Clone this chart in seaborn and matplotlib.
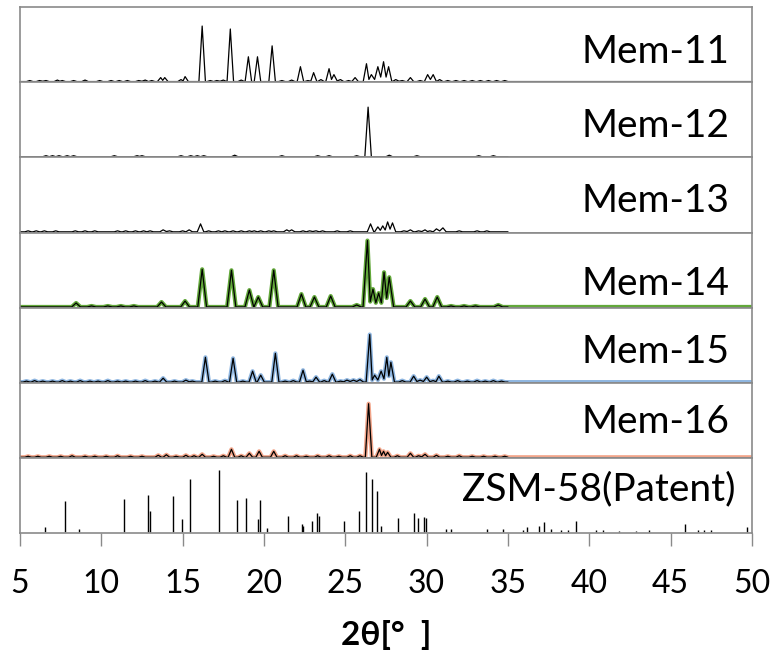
import matplotlib
matplotlib.use('Agg')
import matplotlib.pyplot as plt
import seaborn as sns

# XRD patterns: peak positions (2theta) and heights (panel units, panel = 75)
mem11_pos = [5.6, 6.2, 6.6, 7.3, 7.6, 8.3, 9.0, 9.9, 10.6, 11.1, 11.6, 12.3, 12.7, 13.1,
             13.65, 13.9, 14.9, 15.15, 16.2, 16.7, 17.1, 17.5, 17.93, 18.6, 19.04, 19.6,
             20.5, 21.1, 21.7, 22.24, 22.7, 23.05, 23.5, 24.0, 24.3, 24.7, 25.2, 25.6,
             26.3, 26.6, 27.0, 27.35, 27.66, 28.1, 28.5, 29.0, 29.6, 30.06, 30.4, 30.8,
             31.3, 31.8, 32.3, 32.8, 33.3, 33.8, 34.3, 34.8]
mem11_hgt = [1, 1, 1, 1.5, 1, 1, 1.5, 1, 1, 1, 1, 1, 1.5, 1,
             4, 4, 2, 5, 56, 1, 1, 1.5, 53, 1.5, 25, 25,
             36, 1, 1.5, 15, 1, 9, 2, 13, 7, 2, 1, 4,
             18, 7, 15, 20, 15, 2, 1, 4, 1, 7, 7, 2,
             1, 1, 1, 1, 1, 1, 1, 1]

mem12_pos = [6.6, 7.0, 7.4, 7.9, 8.3, 10.8, 12.2, 12.5, 14.9, 15.5, 15.9, 16.3, 18.2,
             21.1, 23.3, 24.0, 25.7, 26.4, 27.7, 29.4, 33.2, 34.1]
mem12_hgt = [1, 1, 1, 1, 1, 1, 1, 1, 1, 1, 1, 1, 1.5,
             1, 1, 1, 1, 50, 1.5, 1, 1, 1]

mem13_pos = [5.5, 6.0, 6.5, 7.2, 8.4, 9.0, 9.6, 11.0, 11.5, 12.1, 12.6, 13.0, 13.8, 14.2,
             15.0, 15.4, 16.1, 16.6, 17.2, 17.6, 18.1, 18.6, 19.1, 19.4, 19.8, 20.3,
             20.6, 21.4, 21.7, 22.4, 22.8, 23.2, 23.6, 24.5, 25.3, 26.55, 27.0, 27.3,
             27.6, 27.9, 28.6, 29.0, 29.5, 29.9, 30.2, 30.6, 31.0, 32.0, 33.1, 33.7]
mem13_hgt = [1, 1, 1, 1, 1, 1, 1, 1, 1, 1, 1, 1, 2, 1,
             1, 2, 8, 1, 1, 1, 1, 1, 1, 1, 1, 1,
             1, 2, 2, 1, 1, 1, 1, 1, 1, 8, 5, 6,
             10, 9, 1, 2, 1, 2, 1, 3, 4, 1, 1, 1]

mem14_pos = [8.45, 9.4, 10.4, 11.2, 12.0, 13.7, 15.15, 16.2, 18.0, 19.1, 19.65, 20.6,
             22.3, 23.1, 24.1, 25.7, 26.36, 26.7, 27.05, 27.38, 27.7, 29.0, 29.9, 30.65,
             31.5, 32.3, 33.0, 34.4]
mem14_hgt = [4, 1, 1, 1, 1, 5, 6, 38, 37, 17, 10, 37,
             13, 10, 11, 2, 67, 18, 14, 35, 30, 6, 8, 10,
             1, 1, 1, 2]

mem15_pos = [5.4, 5.9, 6.4, 7.0, 7.6, 8.1, 8.7, 9.3, 9.8, 10.4, 11.0, 11.5, 12.1, 12.7,
             13.3, 13.8, 14.5, 15.2, 15.6, 16.4, 17.0, 17.6, 18.1, 18.7, 19.3, 19.8,
             20.7, 21.3, 21.8, 22.4, 22.8, 23.2, 23.7, 24.2, 24.7, 25.1, 25.5, 25.9,
             26.5, 26.8, 27.2, 27.55, 27.8, 28.5, 29.2, 29.6, 30.0, 30.4, 30.75, 31.3,
             31.9, 32.5, 33.1, 33.6, 34.1, 34.6]
mem15_hgt = [1, 1.5, 1, 1, 1.5, 1, 1.5, 1, 1, 1.5, 1, 1, 1, 1.5,
             1, 4, 1, 2, 1, 25, 1, 1.5, 24, 1, 11, 7,
             29, 1, 1.5, 12, 1, 5, 1.5, 8, 1, 2, 2, 2.5,
             48, 7, 11, 25, 20, 1.5, 6, 2, 5, 1.5, 6, 1,
             1.5, 1, 1.5, 1, 1.5, 1]

mem16_pos = [5.5, 6.1, 6.8, 7.5, 8.2, 9.0, 9.6, 10.3, 11.0, 11.8, 12.5, 13.5, 14.0, 14.6,
             15.2, 15.7, 16.2, 16.9, 17.5, 18.0, 18.6, 19.1, 19.7, 20.6, 21.3, 22.0,
             22.6, 23.3, 24.0, 24.6, 25.3, 25.9, 26.43, 27.1, 27.35, 27.6, 28.2, 29.0,
             29.5, 29.9, 30.6, 31.3, 32.0, 32.8, 33.5, 34.2, 34.8]
mem16_hgt = [1, 1, 1, 1, 1.5, 1, 1, 1, 1.5, 1, 1, 2, 2.5, 1,
             2, 1.5, 3, 1, 1.5, 8, 1.5, 4, 6, 6, 1.5, 1.5,
             1, 1.5, 1.5, 1, 1.5, 1.5, 54, 8, 6, 5, 1.5, 4,
             1.5, 3, 2, 1, 1.5, 1, 1, 1, 1]

zsm_pos = [6.52, 7.77, 8.6, 11.39, 12.86, 12.98, 14.38, 14.99, 15.47, 17.21, 18.34,
           18.88, 19.65, 19.77, 20.16, 21.5, 22.32, 22.4, 22.96, 23.27, 23.39, 24.94,
           25.86, 26.25, 26.62, 26.95, 27.17, 28.26, 29.24, 29.45, 29.81, 29.94, 31.21,
           31.49, 33.71, 34.69, 35.93, 36.17, 36.9, 37.2, 37.67, 38.27, 38.67, 39.19,
           40.4, 40.86, 41.84, 42.84, 43.69, 45.91, 46.65, 47.04, 47.47, 49.69]
zsm_hgt = [5, 32, 3, 34, 38, 22, 37, 13, 54, 63, 33,
           35, 13, 33, 4, 17, 8, 6, 11, 20, 17, 11,
           22, 61, 54, 42, 6, 15, 20, 15, 16, 15, 3,
           3, 3, 3, 2, 5, 6, 10, 3, 2, 2, 11,
           2, 2, 1, 1, 2, 8, 2, 2, 2, 5]

names = ["Mem-11", "Mem-12", "Mem-13", "Mem-14", "Mem-15", "Mem-16", "ZSM-58(Patent)"]
x_ticks = [5, 10, 15, 20, 25, 30, 35, 40, 45, 50]


def profile(pos, hgt, w, end=None):
    """Turn a peak list into a polyline of narrow triangles on a zero baseline."""
    xs, ys = [5.0], [0.0]
    for i, (p, h) in enumerate(zip(pos, hgt)):
        if i == 0 or p - pos[i - 1] >= 2 * w:
            xs.append(p - w)
            ys.append(0.0)
        xs.append(p)
        ys.append(h)
        if i + 1 < len(pos) and pos[i + 1] - p < 2 * w:
            xs.append((p + pos[i + 1]) / 2)
            ys.append(0.3 * min(h, hgt[i + 1]))
        else:
            xs.append(p + w)
            ys.append(0.0)
    if end is not None:
        xs.append(end)
        ys.append(0.0)
    return xs, ys


sns.set_theme(style="white")
plt.rcParams['font.family'] = ['Lato', 'DejaVu Sans']

fig, axes = plt.subplots(7, 1, sharex=True, figsize=(7.74, 6.55), dpi=100)
fig.subplots_adjust(left=0.0258, right=0.9716, top=0.989, bottom=0.186, hspace=0)

frame_col = "#8a8a8a"

# (pos, hgt, half width, extend to 50, glow colour)
series = [
    (mem11_pos, mem11_hgt, 0.2, True, None),
    (mem12_pos, mem12_hgt, 0.2, False, None),
    (mem13_pos, mem13_hgt, 0.2, False, None),
    (mem14_pos, mem14_hgt, 0.27, True, "#62a83a"),
    (mem15_pos, mem15_hgt, 0.22, True, "#8fb6e0"),
    (mem16_pos, mem16_hgt, 0.2, True, "#f2a58a"),
]
label_y = [0.26, 0.27, 0.27, 0.17, 0.26, 0.33, 0.44]
label_x = [0.969, 0.969, 0.969, 0.969, 0.969, 0.969, 0.977]

for ax, (pos, hgt, w, extend, glow) in zip(axes[:6], series):
    xs, ys = profile(pos, hgt, w, end=35.0)
    if glow is not None:
        gx, gy = profile(pos, hgt, w, end=50.0)
        sns.lineplot(x=gx, y=gy, ax=ax, sort=False, estimator=None,
                     color=glow, lw=3.0, solid_joinstyle='round')
    elif extend:
        xs, ys = profile(pos, hgt, w, end=50.0)
    sns.lineplot(x=xs, y=ys, ax=ax, sort=False, estimator=None,
                 color="black", lw=0.9)

ax = axes[6]
ax.vlines(zsm_pos, 0, zsm_hgt, color="black", lw=1.0)

for i, ax in enumerate(axes):
    ax.set_xlim(5, 50)
    ax.set_ylim(-0.8, 75)
    ax.set_yticks([])
    ax.set_ylabel("")
    for s in ax.spines.values():
        s.set_color(frame_col)
        s.set_linewidth(1.2)
    ax.text(label_x[i], label_y[i], names[i], transform=ax.transAxes,
            ha='right', va='baseline', fontsize=28, color="black")
    if i < 6:
        ax.tick_params(axis='x', bottom=False, labelbottom=False)

axes[6].set_xticks(x_ticks)
axes[6].tick_params(axis='x', bottom=True, direction='out', length=9, width=1,
                    color=frame_col, labelsize=23, pad=17, labelcolor="black")
axes[6].set_xlabel("2θ[°  ]", fontsize=24, fontweight='bold', labelpad=15,
                   color="black")

plt.savefig("out.png", dpi=100)
plt.close('all')
